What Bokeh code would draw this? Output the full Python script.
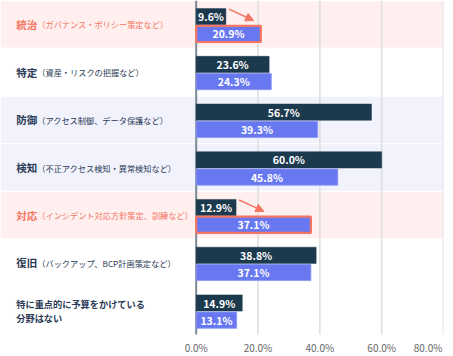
from bokeh.plotting import figure
from bokeh.models import Range1d, FixedTicker, PrintfTickFormatter, Arrow, NormalHead, ColumnDataSource
from bokeh.core.properties import value
from bokeh.embed import file_html
from bokeh.resources import INLINE

# ---- data ----
mains = ["統治", "特定", "防御", "検知", "対応", "復旧", "特に重点的に予算をかけている\n分野はない"]
subs = ["（ガバナンス・ポリシー策定など）", "（資産・リスクの把握など）", "（アクセス制御、データ保護など）",
        "（不正アクセス検知・異常検知など）", "（インシデント対応方針策定、訓練など）",
        "（バックアップ、BCP計画策定など）", ""]
series_dark = [9.6, 23.6, 56.7, 60.0, 12.9, 38.8, 14.9]
series_blue = [20.9, 24.3, 39.3, 45.8, 37.1, 37.1, 13.1]
highlight = [True, False, False, False, True, False, False]
ticks = [0, 20, 40, 60, 80]

# ---- styles ----
FONT = "Noto Sans CJK JP"
DARK = "#1c3a4e"
BLUE = "#6878f1"
CORAL = "#f47563"
PINK = "#fff0ef"
LAV = "#f1f2fc"
LABEL = "#2b3a56"
band_colors = [PINK, "#ffffff", LAV, LAV, PINK, "#ffffff", "#ffffff"]
main_sizes = ["10.5px"] * 6 + ["9.2px"]

n = len(mains)
rows = list(range(n))
X_MIN, X_MAX = -63.3, 80.0

p = figure(frame_width=443, frame_height=334, output_backend="svg", toolbar_location=None,
           x_range=Range1d(X_MIN, X_MAX), y_range=Range1d(n, 0),
           min_border_left=0, min_border_right=10, min_border_top=0, min_border_bottom=22)
p.outline_line_color = None
p.background_fill_color = "#ffffff"
p.border_fill_color = "#ffffff"
p.yaxis.visible = False
p.ygrid.visible = False
p.xgrid.visible = False

# bands
band_src = ColumnDataSource(dict(y=[r + 0.5 for r in rows], c=band_colors))
p.hbar(y="y", left=X_MIN, right=X_MAX, height=0.97, fill_color="c", line_color=None, source=band_src)

# grid lines and axis line
p.segment(x0=ticks[1:], x1=ticks[1:], y0=0, y1=n + 0.05, line_color="#dddddd", line_width=1.5)
p.segment(x0=[ticks[0]], x1=[ticks[0]], y0=0, y1=n + 0.05, line_color="#7d8a94", line_width=2)

# bars
dark_y = [r + 0.5 - 0.16 for r in rows]
blue_y = [r + 0.5 + 0.2 for r in rows]
p.hbar(y=dark_y, left=0, right=series_dark, height=0.34, fill_color=DARK, line_color=DARK, line_width=0.5)
p.hbar(y=blue_y, left=0, right=series_blue, height=0.34, fill_color=BLUE,
       line_color=[CORAL if h else "#8b97f3" for h in highlight],
       line_width=[2.2 if h else 0.8 for h in highlight])

# bar labels
p.text(x=[v / 2 for v in series_dark], y=dark_y, text=[f"{v:.1f}%" for v in series_dark],
       text_color="white", text_font=value(FONT), text_font_style="bold", text_font_size="10.5px",
       text_align="center", text_baseline="middle")
p.text(x=[v / 2 for v in series_blue], y=blue_y, text=[f"{v:.1f}%" for v in series_blue],
       text_color="white", text_font=value(FONT), text_font_style="bold", text_font_size="10.5px",
       text_align="center", text_baseline="middle")

# category labels
lab_colors = [CORAL if h else LABEL for h in highlight]
p.text(x=-58.2, y=[r + 0.5 for r in rows], text=mains, text_color=lab_colors,
       text_font=value(FONT), text_font_style="bold", text_font_size=main_sizes,
       text_align="left", text_baseline="middle", text_line_height=1.0)
p.text(x=-58.2, y=[r + 0.5 for r in rows], text=subs, x_offset=21, text_color=lab_colors,
       text_font=value(FONT), text_font_size="8.2px",
       text_align="left", text_baseline="middle")

# arrows on highlighted rows
for r, h in enumerate(highlight):
    if h:
        p.add_layout(Arrow(end=NormalHead(size=8, fill_color=CORAL, line_color=CORAL),
                           x_start=series_dark[r] + 1.0, y_start=r + 0.18,
                           x_end=series_dark[r] + 9.0, y_end=r + 0.42,
                           line_color=CORAL, line_width=1.5))

# x axis
p.xaxis.ticker = FixedTicker(ticks=ticks)
p.xaxis.formatter = PrintfTickFormatter(format="%.1f%%")
p.xaxis.major_label_overrides = {80: "80.0%\u2007\u2007"}
p.xaxis.axis_line_color = None
p.xaxis.major_tick_line_color = None
p.xaxis.minor_tick_line_color = None
p.xaxis.major_tick_out = 0
p.xaxis.major_tick_in = 0
p.xaxis.major_label_standoff = 5
p.xaxis.major_label_text_font = FONT
p.xaxis.major_label_text_font_size = "10px"
p.xaxis.major_label_text_color = "#666666"

open("out.html", "w").write(file_html(p, INLINE))
